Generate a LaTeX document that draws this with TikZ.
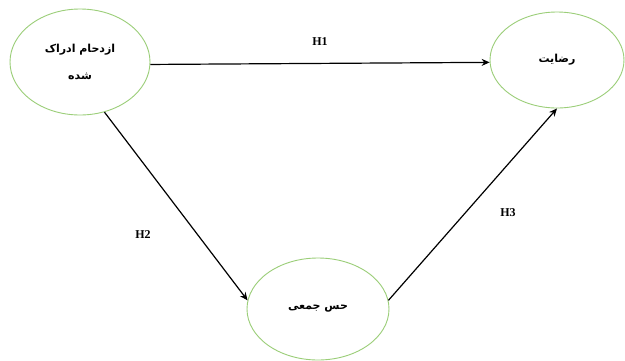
\documentclass[tikz,border=0pt]{standalone}
\usepackage{fontspec}
\setmainfont{Liberation Serif}
\newfontfamily\arabicfont[Script=Arabic]{DejaVu Sans}
\TeXXeTstate=1
\usetikzlibrary{shapes.geometric,arrows.meta}
\definecolor{ellgreen}{RGB}{155,206,120}
\begin{document}
\begin{tikzpicture}[x=1pt,y=-1pt,
  var/.style={ellipse,draw=ellgreen,line width=0.9pt,inner sep=0pt,
    font=\arabicfont\bfseries\fontsize{11pt}{27pt}\selectfont,align=center},
  conn/.style={draw=black,line width=1.2pt,-{Stealth[length=8pt,width=7pt]}},
  hlab/.style={font=\bfseries\fontsize{12pt}{14pt}\selectfont}]
\useasboundingbox[fill=white] (0,0) rectangle (625,360);
\node[var,minimum width=140pt,minimum height=106pt] (a) at (80,62)
  {\beginR ازدحام ادراک\endR\\\beginR شده\endR};
\node[var,minimum width=134pt,minimum height=96pt] (b) at (557,60)
  {\raisebox{4pt}{\beginR رضایت\endR}};
\node[var,minimum width=142pt,minimum height=102pt] (c) at (318,309)
  {\beginR حس جمعی\endR};
\draw[conn] (a.-2) -- (b.-178);
\draw[conn] (a.-64) -- (c.173);
\draw[conn] (c.7) -- (b.-90);
\node[hlab] (h1) at (320,42) {H1};
\node[hlab] (h2) at (143,235) {H2};
\node[hlab] (h3) at (508,213) {H3};
\end{tikzpicture}
\end{document}
